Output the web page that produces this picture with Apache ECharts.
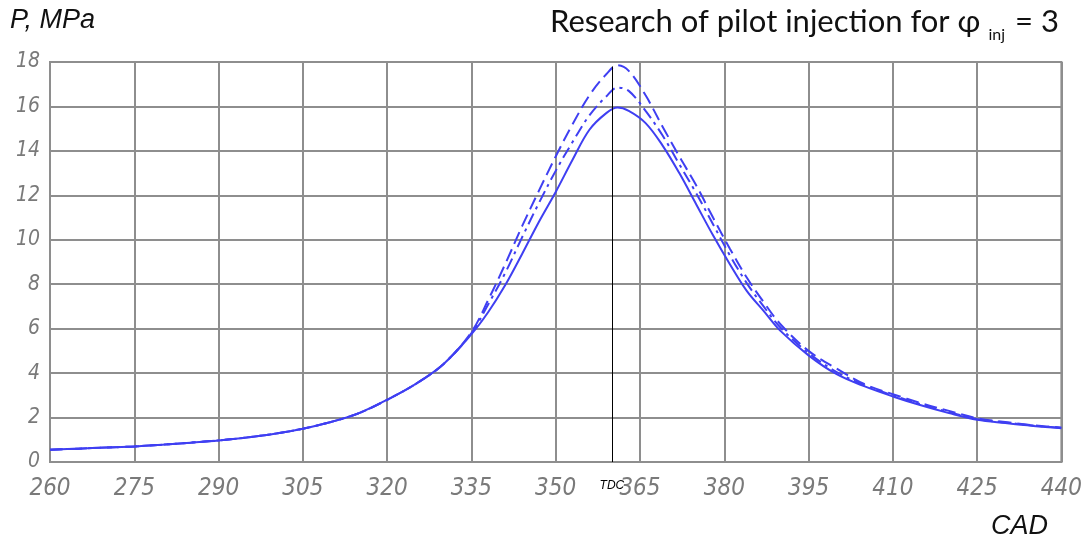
<!DOCTYPE html>
<html>
<head>
<meta charset="utf-8">
<script src="https://cdn.jsdelivr.net/npm/echarts@6/dist/echarts.min.js"></script>
<style>html,body{margin:0;padding:0;background:#fff}#c{width:1085px;height:543px}</style>
</head>
<body>
<div id="c"></div>
<script>
// ---- data ----
const cad = [260,265,270,275,280,285,290,295,300,305,310,315,320,325,330,335,338,341,344,347,350,353,356,359,361,363,366,369,372,375,378,381,384,387,390,395,400,405,410,415,420,425,430,435,440];
const pSolid = [0.55,0.6,0.65,0.7,0.78,0.87,0.97,1.1,1.27,1.5,1.8,2.2,2.8,3.5,4.4,5.75,6.75,7.95,9.35,10.8,12.15,13.6,14.95,15.7,15.95,15.8,15.25,14.25,13.0,11.6,10.2,8.9,7.7,6.8,5.9,4.8,3.95,3.4,2.95,2.55,2.2,1.9,1.75,1.62,1.52];
const pDashDot = [0.55,0.6,0.65,0.7,0.78,0.87,0.97,1.1,1.27,1.5,1.8,2.2,2.8,3.5,4.4,5.8,7.1,8.5,10.1,11.65,13.1,14.4,15.6,16.45,16.85,16.7,15.8,14.7,13.4,12.1,10.7,9.3,8.05,7.0,6.05,4.9,4.05,3.45,3.0,2.6,2.25,1.93,1.78,1.64,1.53];
const pDashed = [0.55,0.6,0.65,0.7,0.78,0.87,0.97,1.1,1.27,1.5,1.8,2.2,2.8,3.5,4.4,5.85,7.3,8.9,10.6,12.2,13.75,15.2,16.5,17.45,17.85,17.6,16.5,15.1,13.75,12.45,11.0,9.6,8.3,7.2,6.2,5.0,4.2,3.5,3.05,2.65,2.3,1.97,1.8,1.65,1.55];
const tdcX = 360;
const tdcTop = 17.8;
const xMin = 260, xMax = 440, xStep = 15;
const yMin = 0, yMax = 18, yStep = 2;
const titleMain = 'Research of pilot injection for φ';
const titleSub = 'inj';
const titleEnd = ' = 3';

const zip = (xs, ys) => xs.map((x, i) => [x, ys[i]]);
const blue = '#3f3ff2';
const gridCol = '#8e8e8e';
const labelFont = "'Liberation Sans Narrow','DejaVu Sans Condensed',sans-serif";

const chart = echarts.init(document.getElementById('c'), null, {renderer: 'canvas'});
chart.setOption({
  animation: false,
  backgroundColor: '#ffffff',
  title: {
    left: 545, top: -8,
    text: '{a|' + titleMain + '}{s|' + titleSub + '}{a|' + titleEnd + '}',
    textStyle: {
      rich: {
        a: {fontFamily: 'Lato', fontSize: 31, fontWeight: 'normal', color: '#111', verticalAlign: 'bottom', lineHeight: 40},
        s: {fontFamily: 'Lato', fontSize: 16, fontWeight: 'normal', color: '#111', verticalAlign: 'bottom', lineHeight: 40, padding: [0, 2, -6, 8]}
      }
    }
  },
  graphic: [
    {type: 'text', left: 10, top: 7, style: {text: 'P, MPa', font: 'italic 27px "Liberation Sans", Arial, sans-serif', fill: '#111'}},
    {type: 'text', left: 991, top: 513, style: {text: 'CAD', font: 'italic 27px "Liberation Sans", Arial, sans-serif', fill: '#111'}}
  ],
  grid: {left: 50, right: 21, top: 62, bottom: 81, show: true, borderColor: gridCol, borderWidth: 2},
  xAxis: {
    type: 'value', min: xMin, max: xMax, interval: xStep,
    axisLine: {show: true, lineStyle: {color: gridCol, width: 2}},
    axisTick: {show: false},
    splitLine: {show: true, lineStyle: {color: gridCol, width: 2}},
    axisLabel: {fontFamily: labelFont, fontStyle: 'italic', fontSize: 24, color: '#7a7a7a', margin: 15}
  },
  yAxis: {
    type: 'value', min: yMin, max: yMax, interval: yStep,
    axisLine: {show: true, lineStyle: {color: gridCol, width: 2}},
    axisTick: {show: false},
    splitLine: {show: true, lineStyle: {color: gridCol, width: 2}},
    axisLabel: {fontFamily: labelFont, fontStyle: 'italic', fontSize: 21, color: '#7a7a7a', margin: 10}
  },
  series: [
    {
      type: 'line', data: zip(cad, pSolid), smooth: 0.35, showSymbol: false,
      lineStyle: {color: blue, width: 2, type: 'solid'},
      markLine: {
        silent: true, symbol: ['none', 'none'],
        lineStyle: {color: '#000', width: 1, type: 'solid'},
        label: {show: true, position: 'start', formatter: 'TDC', fontStyle: 'italic', fontSize: 12, color: '#000', fontFamily: "'Liberation Sans', Arial, sans-serif", distance: 18},
        data: [[{coord: [tdcX, yMin]}, {coord: [tdcX, tdcTop]}]]
      }
    },
    {
      type: 'line', data: zip(cad, pDashDot), smooth: 0.35, showSymbol: false,
      lineStyle: {color: blue, width: 2, type: [12, 5, 3, 5]}
    },
    {
      type: 'line', data: zip(cad, pDashed), smooth: 0.35, showSymbol: false,
      lineStyle: {color: blue, width: 2, type: [13, 6]}
    }
  ]
});
</script>
</body>
</html>
